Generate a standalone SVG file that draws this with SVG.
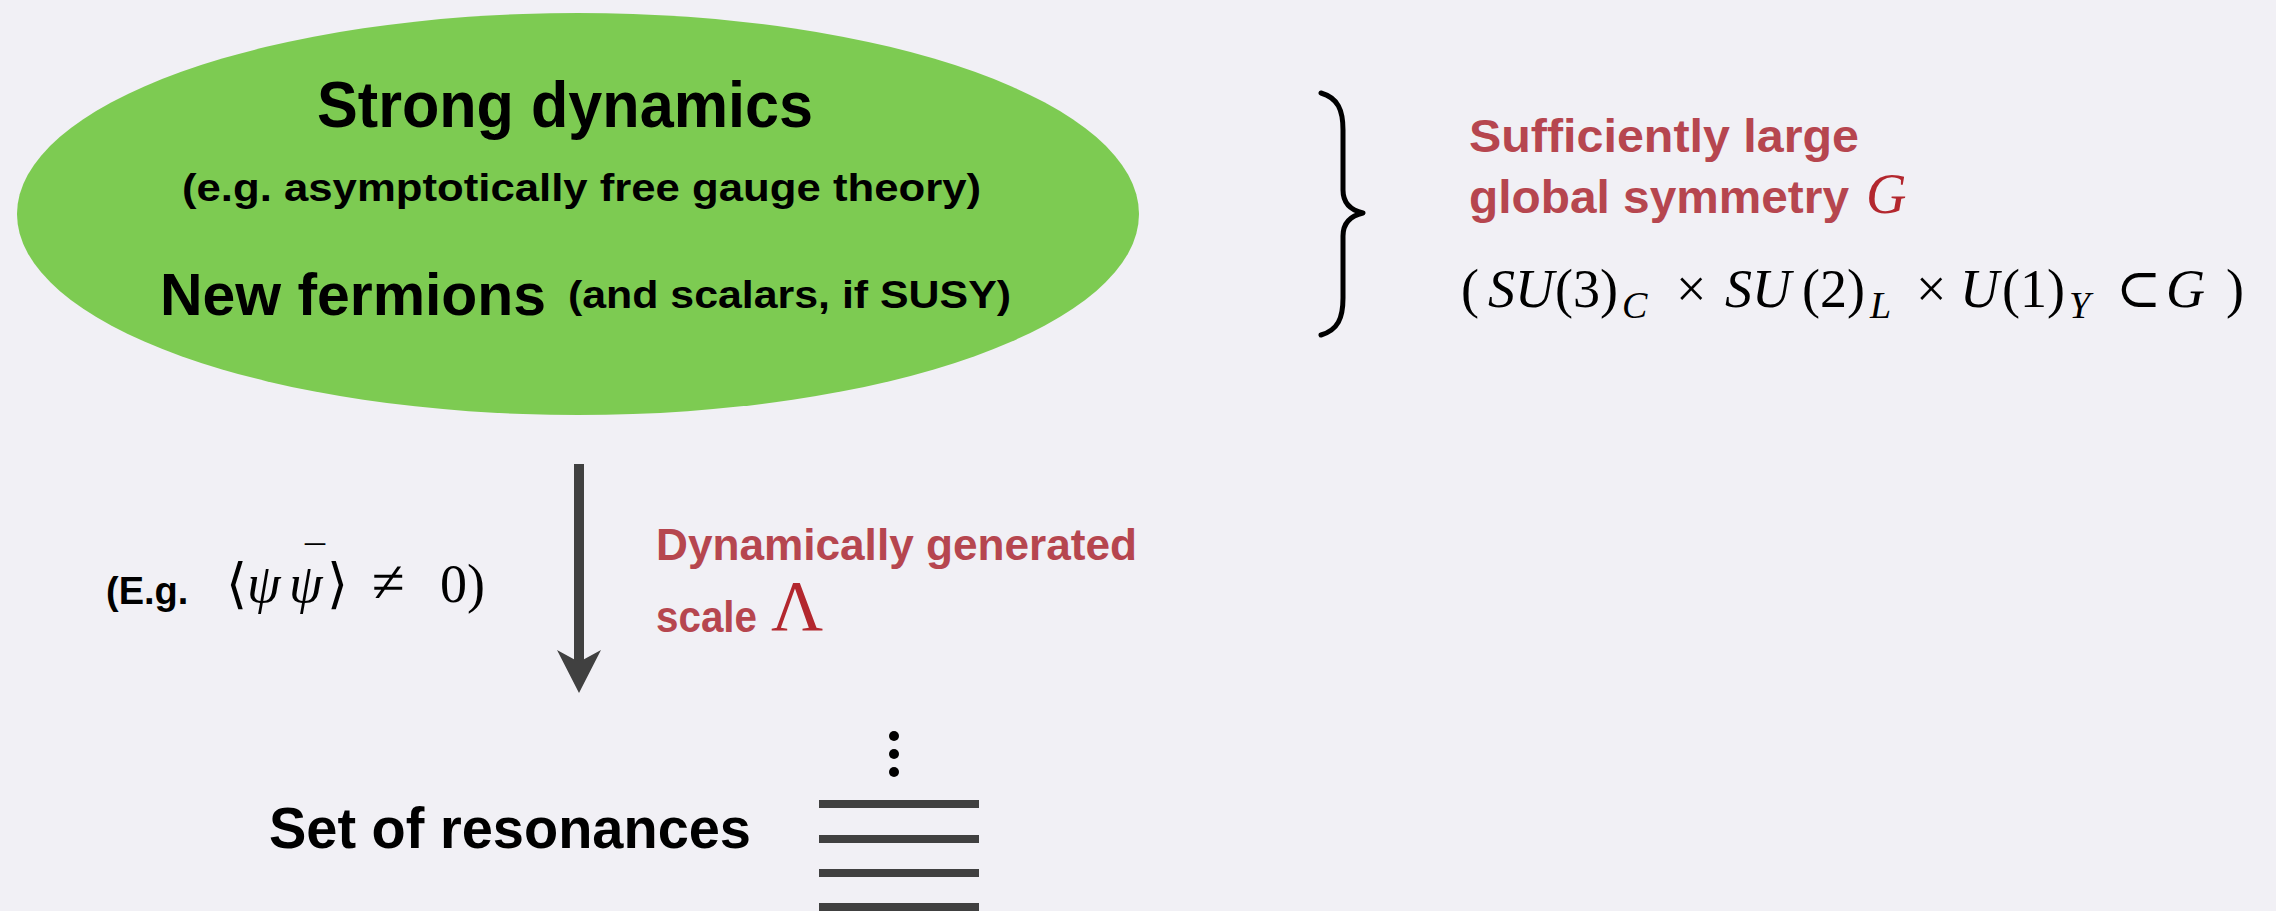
<svg xmlns="http://www.w3.org/2000/svg" width="2276" height="911" viewBox="0 0 2276 911">
  <defs>
    <style>
      .sans { font-family: "Liberation Sans", Arial, sans-serif; font-weight: bold; }
      .blk { fill: #000000; }
      .red { fill: #B6464F; }
      .math { font-family: "Liberation Serif", "DejaVu Serif", serif; font-weight: normal; }
      .mathred { fill: #B3272E; }
      .it { font-style: italic; }
      .lvl { stroke: #404040; stroke-width: 8; }
    </style>
  </defs>
  <rect x="0" y="0" width="2276" height="911" fill="#F1F0F5"/>

  <g id="strong-dynamics">
    <ellipse cx="578" cy="214" rx="561" ry="201" fill="#7DCB52"/>
    <text class="sans blk" x="317" y="127" font-size="64" textLength="496" lengthAdjust="spacingAndGlyphs">Strong dynamics</text>
    <text class="sans blk" x="182" y="201" font-size="38" textLength="799" lengthAdjust="spacingAndGlyphs">(e.g. asymptotically free gauge theory)</text>
    <text class="sans blk" x="160" y="315" font-size="60" textLength="386" lengthAdjust="spacingAndGlyphs">New fermions</text>
    <text class="sans blk" x="568" y="308" font-size="38" textLength="443" lengthAdjust="spacingAndGlyphs">(and scalars, if SUSY)</text>
  </g>

  <g id="global-symmetry">
    <path d="M1321,93 C1338,98 1343,110 1343,130 L1343,190 C1343,203 1350,210 1363,213 C1350,216 1343,223 1343,236 L1343,298 C1343,318 1338,330 1321,335" fill="none" stroke="#000" stroke-width="5" stroke-linecap="round" stroke-linejoin="round"/>
    <text class="sans red" x="1469" y="152" font-size="46" textLength="390" lengthAdjust="spacingAndGlyphs">Sufficiently large</text>
    <text class="sans red" x="1469" y="213" font-size="46" textLength="380" lengthAdjust="spacingAndGlyphs">global symmetry</text>
    <text class="math mathred it" x="1866" y="213" font-size="56">G</text>
    <text class="math blk" y="307" font-size="54">
      <tspan x="1461">(</tspan>
      <tspan x="1488" class="it">SU</tspan>
      <tspan x="1555">(3)</tspan>
      <tspan x="1622" y="318" font-size="38" class="it">C</tspan>
      <tspan x="1676" y="307">×</tspan>
      <tspan x="1725" class="it">SU</tspan>
      <tspan x="1802">(2)</tspan>
      <tspan x="1870" y="318" font-size="38" class="it">L</tspan>
      <tspan x="1916" y="307">×</tspan>
      <tspan x="1960" class="it">U</tspan>
      <tspan x="2002">(1)</tspan>
      <tspan x="2069" y="318" font-size="38" class="it">Y</tspan>
      <tspan x="2116" y="307">⊂</tspan>
      <tspan x="2166" class="it">G</tspan>
      <tspan x="2226">)</tspan>
    </text>
  </g>

  <g id="condensate-label">
    <text class="sans blk" x="106" y="604" font-size="38">(E.g.</text>
    <text class="math blk" y="602" font-size="54">
      <tspan x="226">⟨</tspan>
      <tspan x="247" class="it">ψ</tspan>
      <tspan x="289" class="it">ψ</tspan>
      <tspan x="305" y="574" font-size="40">¯</tspan>
      <tspan x="327" y="602">⟩</tspan>
      <tspan x="372" font-size="60">≠</tspan>
      <tspan x="440">0)</tspan>
    </text>
  </g>

  <g id="scale-label">
    <text class="sans red" x="656" y="560" font-size="44" textLength="481" lengthAdjust="spacingAndGlyphs">Dynamically generated</text>
    <text class="sans red" x="656" y="632" font-size="44" textLength="101" lengthAdjust="spacingAndGlyphs">scale</text>
    <text class="math mathred" x="771" y="630" font-size="72">Λ</text>
  </g>

  <g id="resonances">
    <text class="sans blk" x="269" y="848" font-size="58" textLength="482" lengthAdjust="spacingAndGlyphs">Set of resonances</text>
    <circle cx="894" cy="736" r="5" fill="#000"/>
    <circle cx="894" cy="754" r="5" fill="#000"/>
    <circle cx="894" cy="772" r="5" fill="#000"/>
    <line class="lvl" x1="819" y1="804" x2="979" y2="804"/>
    <line class="lvl" x1="819" y1="839" x2="979" y2="839"/>
    <line class="lvl" x1="819" y1="873" x2="979" y2="873"/>
    <line class="lvl" x1="819" y1="907" x2="979" y2="907"/>
  </g>

  <g id="connectors">
    <line x1="579" y1="464" x2="579" y2="664" stroke="#404040" stroke-width="10"/>
    <polygon points="579,693 557,650 579,662 601,650" fill="#404040"/>
  </g>
</svg>
